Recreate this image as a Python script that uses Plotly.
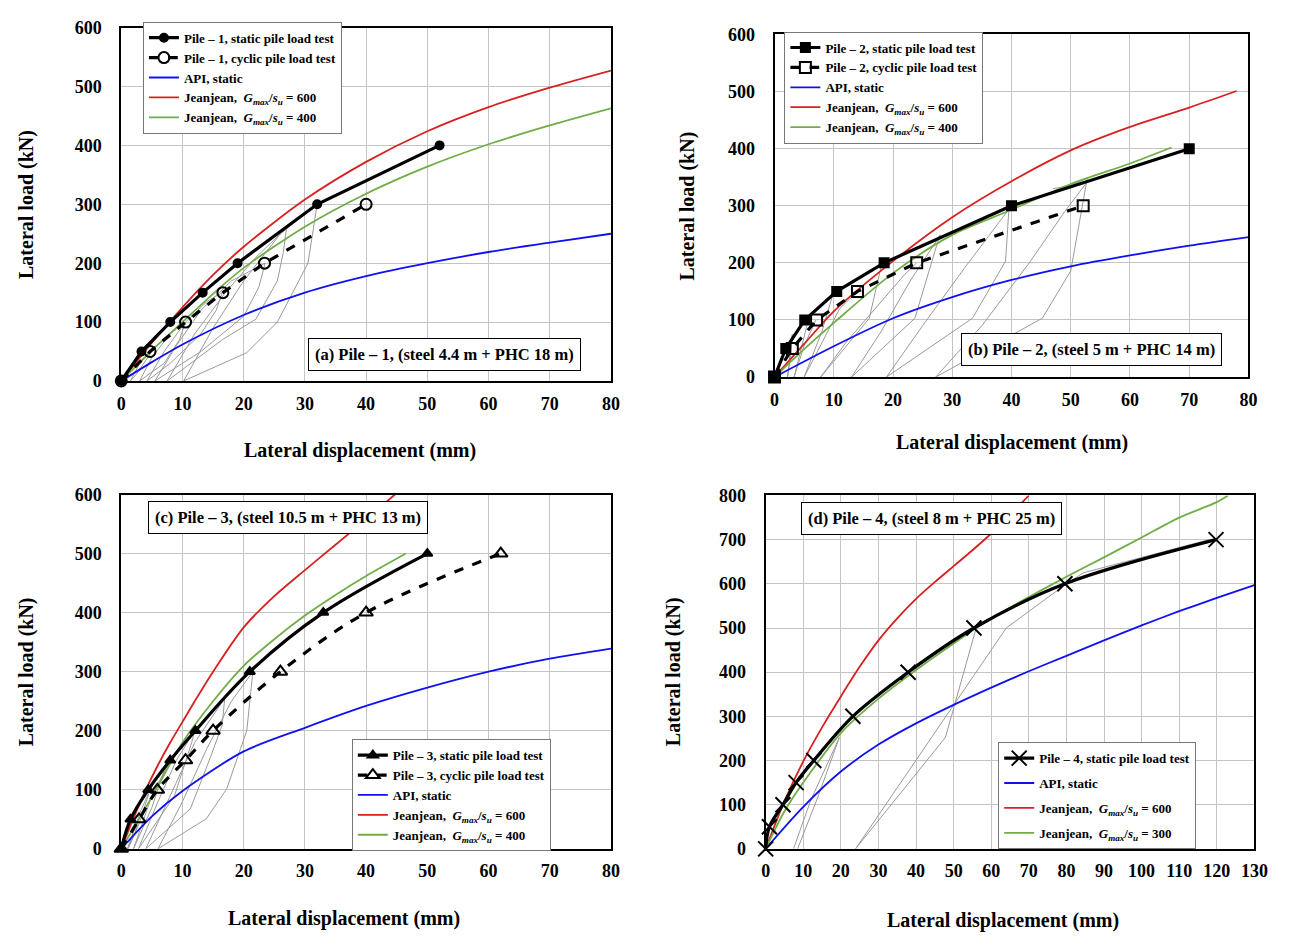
import plotly.graph_objects as go

FONT = "Liberation Serif, Times New Roman, serif"

# ---------------- (a) Pile-1 ----------------
A_STATIC_X = [0, 3.3, 8.0, 13.3, 19.0, 32.0, 52.0]
A_STATIC_Y = [0, 50, 100, 150, 200, 300, 400]
A_CYCLIC_X = [0, 4.7, 10.5, 16.6, 23.4, 40.0]
A_CYCLIC_Y = [0, 50, 100, 150, 200, 300]
A_API_X = [0, 5, 10, 20, 30, 40, 50, 60, 70, 80]
A_API_Y = [0, 32, 62, 112, 150, 178, 200, 219, 235, 250]
A_J600_X = [0, 5, 10, 15, 20, 30, 40, 50, 60, 70, 80]
A_J600_Y = [0, 65, 125, 180, 228, 308, 372, 424, 465, 498, 527]
A_J400_X = [0, 5, 10, 15, 20, 30, 40, 50, 60, 70, 80]
A_J400_Y = [0, 52, 100, 148, 192, 262, 318, 364, 402, 434, 463]
A_LOOPS_X = [[5, 4, 2.5, 1.5], [1.5, 3, 5],
             [10.5, 9.5, 7, 3], [3, 5, 8, 10.5],
             [16.5, 15.5, 13, 8, 4.2], [4.2, 7, 10.5, 14, 16.5],
             [23.5, 22.5, 20, 13, 5.5], [5.5, 9, 13, 18, 23.5],
             [27, 26.5, 25.5, 22, 16.5, 7.5], [7.5, 12, 17, 22, 27],
             [32, 30.5, 25.5, 20.5, 10.2], [10.2, 15, 20, 26, 32]]
A_LOOPS_Y = [[50, 35, 12, 0], [0, 30, 50],
             [100, 70, 30, 0], [0, 40, 80, 100],
             [150, 120, 80, 30, 0], [0, 50, 100, 135, 150],
             [200, 160, 110, 50, 0], [0, 60, 120, 170, 200],
             [260, 220, 170, 105, 70, 0], [0, 80, 150, 210, 260],
             [300, 200, 100, 48, 0], [0, 90, 170, 250, 300]]

# ---------------- (b) Pile-2 ----------------
B_STATIC_X = [0, 1.9, 5.1, 10.5, 18.5, 40, 70]
B_STATIC_Y = [0, 50, 100, 150, 200, 300, 400]
B_CYCLIC_X = [0, 3, 7.1, 14, 24, 52.1]
B_CYCLIC_Y = [0, 50, 100, 150, 200, 300]
B_API_X = [0, 10, 20, 30, 40, 50, 60, 70, 80]
B_API_Y = [0, 54, 103, 140, 170, 194, 213, 230, 245]
B_J600_X = [0, 5, 10, 20, 30, 40, 50, 60, 70, 78]
B_J600_Y = [0, 58, 115, 203, 280, 343, 397, 438, 472, 501]
B_J400_X = [0, 5, 10, 20, 30, 40, 50, 60, 67]
B_J400_Y = [0, 49, 95, 182, 249, 293, 338, 374, 402]
B_LOOPS_X = [[3, 2.6, 2.2], [2.2, 2.6, 3.0],
             [5.7, 4.5, 3.3], [3.3, 5, 7],
             [10, 8, 5], [5, 8, 11, 14],
             [18.2, 16, 7.8], [7.8, 12, 17, 22, 24],
             [27.9, 23.7, 13], [13, 18, 23, 28],
             [39.6, 39, 33.4, 18.9], [18.9, 25, 32, 40],
             [52.8, 50, 45.2, 27.2], [27.2, 35, 43, 49, 53],
             [47, 50, 53]]
B_LOOPS_Y = [[75, 40, 0], [0, 30, 75],
             [100, 50, 0], [0, 55, 100],
             [150, 80, 0], [0, 60, 120, 150],
             [203, 103, 0], [0, 60, 120, 180, 200],
             [249, 103, 0], [0, 80, 170, 249],
             [300, 203, 103, 0], [0, 90, 190, 300],
             [349, 186, 103, 0], [0, 90, 200, 290, 345],
             [330, 335, 350]]

# ---------------- (c) Pile-3 ----------------
C_STATIC_X = [0, 1.5, 4.4, 8, 12.1, 21, 33, 50]
C_STATIC_Y = [0, 50, 100, 150, 200, 300, 400, 500]
C_CYCLIC_X = [0, 2.9, 5.9, 10.5, 15, 26, 40, 62]
C_CYCLIC_Y = [0, 50, 100, 150, 200, 300, 400, 500]
C_API_X = [0, 5, 10, 20, 30, 40, 50, 60, 70, 80]
C_API_Y = [0, 55, 98, 165, 205, 242, 273, 300, 322, 339]
C_J600_X = [0, 2, 4, 6, 8, 10, 12, 15, 20, 25, 30, 35, 40, 44.7]
C_J600_Y = [0, 52, 100, 142, 180, 215, 250, 300, 375, 428, 472, 515, 558, 600]
C_J400_X = [0, 5, 10, 15, 20, 25, 30, 35, 40, 46.5]
C_J400_Y = [0, 88, 180, 250, 310, 355, 395, 430, 462, 500]
C_LOOPS_X = [[2.8, 2.2, 1.0], [1.0, 2, 2.8],
             [4.7, 3, 1.1], [1.1, 3, 4.7],
             [8, 7.4, 5, 2], [2, 5, 8],
             [12, 11.5, 8.7, 2.8], [2.8, 6, 9, 12],
             [16.9, 16.5, 14.6, 11.3, 4], [4, 8, 12, 16.9],
             [21.5, 20.5, 17.2, 13.9, 6], [6, 10, 14, 18, 21.5]]
C_LOOPS_Y = [[48, 25, 0], [0, 30, 48],
             [100, 45, 0], [0, 60, 100],
             [150, 145, 70, 0], [0, 90, 150],
             [200, 180, 90, 0], [0, 80, 150, 200],
             [255, 210, 156, 68, 0], [0, 90, 180, 255],
             [300, 200, 101, 51, 0], [0, 80, 170, 250, 300]]

# ---------------- (d) Pile-4 ----------------
D_STATIC_X = [0, 1, 4.6, 8.1, 12.8, 23.2, 37.9, 55.4, 79.6, 119.8]
D_STATIC_Y = [0, 50, 100, 150, 200, 300, 400, 500, 600, 700]
D_API_X = [0, 10, 20, 30, 40, 50, 60, 70, 80, 90, 100, 110, 120, 130]
D_API_Y = [0, 95, 175, 236, 284, 326, 365, 402, 437, 472, 506, 538, 568, 597]
D_J600_X = [0, 5, 10, 15, 20, 25, 30, 35, 40, 45, 50, 55, 60, 65, 70]
D_J600_Y = [0, 108, 198, 275, 345, 412, 472, 522, 566, 604, 640, 676, 714, 756, 800]
D_J300_X = [0, 5, 10, 20, 30, 40, 50, 60, 70, 80, 90, 100, 110, 120, 123]
D_J300_Y = [0, 85, 150, 262, 340, 405, 465, 522, 570, 616, 660, 705, 750, 785, 800]
D_LOOPS_X = [[7.4, 12, 19.6], [8.5, 14, 19.6],
             [23.9, 47.8, 50, 56], [23.9, 50, 64, 80, 84.5, 118]]
D_LOOPS_Y = [[0, 110, 252], [0, 120, 252],
             [0, 252, 318, 500], [0, 325, 500, 600, 625, 700]]

PANELS = [
    dict(tag="(a) Pile – 1, (steel 4.4 m + PHC 18 m)", pile=1,
         static=(A_STATIC_X, A_STATIC_Y), cyclic=(A_CYCLIC_X, A_CYCLIC_Y),
         api=(A_API_X, A_API_Y), j1=(A_J600_X, A_J600_Y), j2=(A_J400_X, A_J400_Y),
         j2lab="400", loops=(A_LOOPS_X, A_LOOPS_Y),
         sym="circle", osym="circle-open", msize=8, osize=11,
         xd=[118, 615], yd=[18, 379], xmax=80, ymax=600,
         leg=(140, 12), gap=0, box=(446, 352), ytit=22, xtit=(360, 450), smooth=False),
    dict(tag="(b) Pile – 2, (steel 5 m + PHC 14 m)", pile=2,
         static=(B_STATIC_X, B_STATIC_Y), cyclic=(B_CYCLIC_X, B_CYCLIC_Y),
         api=(B_API_X, B_API_Y), j1=(B_J600_X, B_J600_Y), j2=(B_J400_X, B_J400_Y),
         j2lab="400", loops=(B_LOOPS_X, B_LOOPS_Y),
         sym="square", osym="square-open", msize=9, osize=11,
         xd=[781, 1262], yd=[25, 375], xmax=80, ymax=600,
         leg=(791, 22), gap=0, box=(1103, 347), ytit=693, xtit=(1022, 442), smooth=False),
    dict(tag="(c) Pile – 3, (steel 10.5 m + PHC 13 m)", pile=3,
         static=(C_STATIC_X, C_STATIC_Y), cyclic=(C_CYCLIC_X, C_CYCLIC_Y),
         api=(C_API_X, C_API_Y), j1=(C_J600_X, C_J600_Y), j2=(C_J400_X, C_J400_Y),
         j2lab="400", loops=(C_LOOPS_X, C_LOOPS_Y),
         sym="triangle-up", osym="triangle-up-open", msize=9, osize=12,
         xd=[118, 615], yd=[495, 857], xmax=80, ymax=600,
         leg=(352, 745), gap=0, box=(287, 518), ytit=22, xtit=(344, 928), smooth=True),
    dict(tag="(d) Pile – 4, (steel 8 m + PHC 25 m)", pile=4,
         static=(D_STATIC_X, D_STATIC_Y), cyclic=None,
         api=(D_API_X, D_API_Y), j1=(D_J600_X, D_J600_Y), j2=(D_J300_X, D_J300_Y),
         j2lab="300", loops=(D_LOOPS_X, D_LOOPS_Y),
         sym="x-thin", osym=None, msize=15, osize=None,
         xd=[772, 1268], yd=[496, 857], xmax=130, ymax=800,
         leg=(1008, 748), gap=5, box=(940, 519), ytit=678, xtit=(1013, 930), smooth=True),
]

W, H = 1294, 944
fig = go.Figure()
annotations = []
layout = dict(width=W, height=H, margin=dict(l=0, r=0, t=0, b=0),
              paper_bgcolor="white", plot_bgcolor="white", showlegend=True,
              font=dict(family=FONT, color="black"))

GM = "<i>G</i><sub><i>max</i></sub>/<i>s</i><sub><i>u</i></sub>"

for i, p in enumerate(PANELS):
    n = i + 1
    xa = "x" if n == 1 else f"x{n}"
    ya = "y" if n == 1 else f"y{n}"
    lg = "legend" if n == 1 else f"legend{n}"
    # gray unload/reload loops
    gx, gy = [], []
    for lx, ly in zip(*p["loops"]):
        gx += list(lx) + [None]
        gy += list(ly) + [None]
    fig.add_trace(go.Scatter(x=gx, y=gy, mode="lines", line=dict(color="#9a9a9a", width=1),
                             showlegend=False, hoverinfo="skip", xaxis=xa, yaxis=ya))
    shape = "spline" if p["smooth"] else "linear"
    theory = [
        (p["api"], "API, static", "#1010f0", 3),
        (p["j1"], f"Jeanjean,  {GM} = 600", "#d82020", 4),
        (p["j2"], f"Jeanjean,  {GM} = {p['j2lab']}", "#70ad47", 5),
    ]
    for (tx, ty), name, col, rk in theory:
        fig.add_trace(go.Scatter(x=tx, y=ty, mode="lines", name=name,
                                 line=dict(color=col, width=1.8, shape="spline", smoothing=0.8),
                                 legend=lg, legendrank=rk, legendgroup=f"{n}-{rk}",
                                 xaxis=xa, yaxis=ya))
    fig.add_trace(go.Scatter(x=p["static"][0], y=p["static"][1], mode="lines+markers",
                             name=f"Pile – {p['pile']}, static pile load test",
                             line=dict(color="black", width=3.2, shape=shape),
                             marker=dict(symbol=p["sym"], size=p["msize"], color="black",
                                         line=dict(color="black", width=2)),
                             cliponaxis=False, legend=lg, legendrank=1, legendgroup=f"{n}-1",
                             xaxis=xa, yaxis=ya))
    if p["cyclic"] is not None:
        fig.add_trace(go.Scatter(x=p["cyclic"][0], y=p["cyclic"][1], mode="lines+markers",
                                 name=f"Pile – {p['pile']}, cyclic pile load test",
                                 line=dict(color="black", width=3.2, dash="dash", shape=shape),
                                 marker=dict(symbol=p["osym"], size=p["osize"], color="black",
                                             line=dict(color="black", width=2)),
                                 cliponaxis=False, legend=lg, legendrank=2, legendgroup=f"{n}-2",
                                 xaxis=xa, yaxis=ya))

    x0, x1 = p["xd"]
    y0, y1 = p["yd"]
    axcommon = dict(showgrid=True, gridcolor="#c4c4c4", gridwidth=1.3,
                    showline=True, linecolor="black", linewidth=2, mirror=True,
                    zeroline=False, ticks="",
                    tickfont=dict(family=FONT, size=18, color="black", weight="bold"))
    layout["xaxis" if n == 1 else f"xaxis{n}"] = dict(
        domain=[x0 / W, x1 / W], range=[0, p["xmax"]], dtick=10, anchor=ya,
        ticklabelstandoff=5, **axcommon)
    layout["yaxis" if n == 1 else f"yaxis{n}"] = dict(
        domain=[1 - y1 / H, 1 - y0 / H], range=[0, p["ymax"]], dtick=100, anchor=xa,
        ticklabelstandoff=14, **axcommon)
    layout[lg] = dict(x=p["leg"][0] / W, y=1 - p["leg"][1] / H, xanchor="left", yanchor="top",
                      xref="paper", yref="paper", bgcolor="white", bordercolor="#777",
                      borderwidth=1, traceorder="grouped", tracegroupgap=p["gap"], itemwidth=30,
                      font=dict(family=FONT, size=13, color="black", weight="bold"))
    annotations.append(dict(text=f"<b>{p['tag']}</b>", x=p["box"][0] / W, y=1 - p["box"][1] / H,
                            xref="paper", yref="paper", showarrow=False,
                            xanchor="center", yanchor="middle",
                            font=dict(family=FONT, size=16.5, color="black"),
                            bordercolor="black", borderwidth=1, borderpad=6, bgcolor="white"))
    annotations.append(dict(text="<b>Lateral load (kN)</b>", x=p["ytit"] / W,
                            y=1 - (y0 + y1) / 2 / H, xref="paper", yref="paper",
                            xanchor="center", yanchor="middle",
                            showarrow=False, textangle=-90,
                            font=dict(family=FONT, size=20, color="black")))
    annotations.append(dict(text="<b>Lateral displacement (mm)</b>", x=p["xtit"][0] / W,
                            y=1 - p["xtit"][1] / H, xref="paper", yref="paper",
                            xanchor="center", yanchor="middle",
                            showarrow=False, font=dict(family=FONT, size=20, color="black")))

layout["annotations"] = annotations
fig.update_layout(**layout)
fig.write_html("out.html")
